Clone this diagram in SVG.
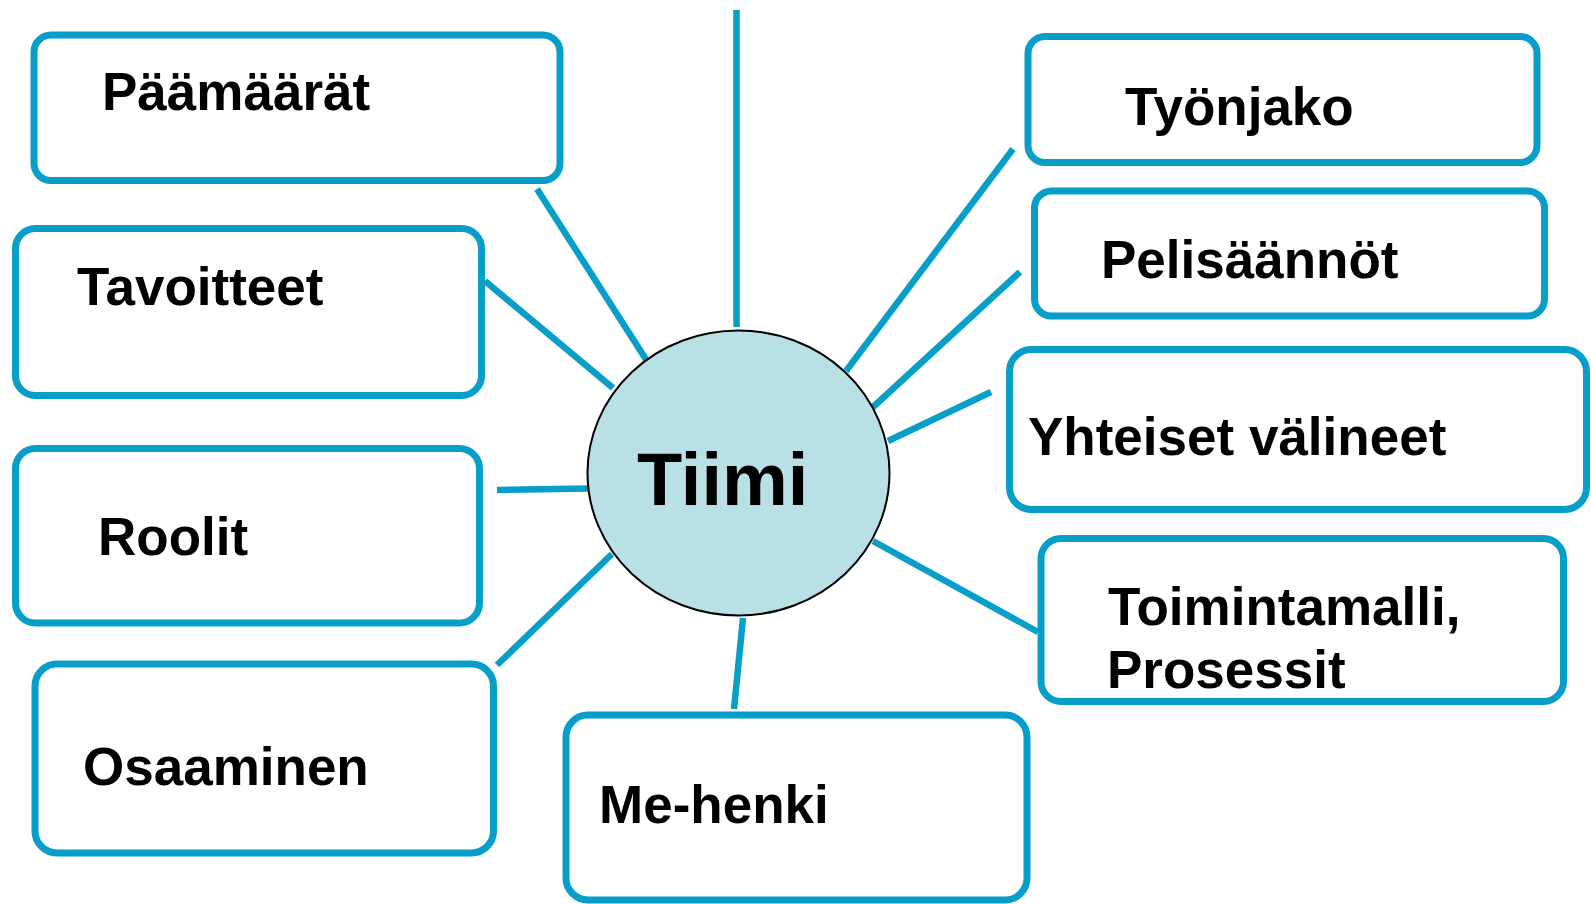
<svg xmlns="http://www.w3.org/2000/svg" width="1591" height="904" viewBox="0 0 1591 904">
  <style>
    .box { fill: #ffffff; stroke: #079fc9; stroke-width: 7; }
    .link { stroke: #079fc9; stroke-width: 6.5; stroke-linecap: butt; fill: none; }
    .label { font-family: "Liberation Sans", Arial, sans-serif; font-weight: bold; font-size: 53px; fill: #000000; }
    .hub { fill: #b9e0e4; stroke: #000000; stroke-width: 2; }
    .hub-label { font-family: "Liberation Sans", Arial, sans-serif; font-weight: bold; font-size: 74px; fill: #000000; }
  </style>
  <rect width="1591" height="904" fill="#ffffff"/>

  <!-- spokes from the central circle -->
  <g id="connectors">
    <line class="link" x1="736.5" y1="10" x2="736.5" y2="327"/>
    <line class="link" x1="537" y1="189" x2="647" y2="361"/>
    <line class="link" x1="485" y1="281" x2="613" y2="388"/>
    <line class="link" x1="497" y1="490" x2="588" y2="488.5"/>
    <line class="link" x1="497" y1="665" x2="612" y2="554"/>
    <line class="link" x1="743" y1="618" x2="734" y2="709"/>
    <line class="link" x1="1013" y1="149" x2="846" y2="371"/>
    <line class="link" x1="1020" y1="272" x2="872" y2="408"/>
    <line class="link" x1="991" y1="392" x2="888" y2="441"/>
    <line class="link" x1="873" y1="541" x2="1038" y2="632"/>
  </g>

  <g id="tiimi">
    <ellipse class="hub" cx="738.5" cy="473" rx="151" ry="142.5"/>
    <text class="hub-label" x="637" y="505">Tiimi</text>
  </g>

  <g id="paamaarat">
    <rect class="box" x="34" y="35" width="526" height="145.5" rx="17"/>
    <text class="label" x="102" y="110">Päämäärät</text>
  </g>

  <g id="tavoitteet">
    <rect class="box" x="15.5" y="228.5" width="466" height="167" rx="20"/>
    <text class="label" x="77" y="305">Tavoitteet</text>
  </g>

  <g id="roolit">
    <rect class="box" x="15.5" y="448.5" width="464" height="174.5" rx="20"/>
    <text class="label" x="98" y="555">Roolit</text>
  </g>

  <g id="osaaminen">
    <rect class="box" x="35" y="664" width="458.5" height="189" rx="22"/>
    <text class="label" x="83" y="785">Osaaminen</text>
  </g>

  <g id="me-henki">
    <rect class="box" x="566" y="715" width="461" height="185" rx="22"/>
    <text class="label" x="599" y="823">Me-henki</text>
  </g>

  <g id="tyonjako">
    <rect class="box" x="1028" y="36.5" width="509" height="126" rx="17"/>
    <text class="label" x="1125" y="125">Työnjako</text>
  </g>

  <g id="pelisaannot">
    <rect class="box" x="1034.5" y="191" width="510" height="125" rx="17"/>
    <text class="label" x="1101" y="278">Pelisäännöt</text>
  </g>

  <g id="yhteiset-valineet">
    <rect class="box" x="1009.5" y="349.5" width="577" height="160" rx="22"/>
    <text class="label" x="1028" y="455">Yhteiset välineet</text>
  </g>

  <g id="toimintamalli">
    <rect class="box" x="1041" y="538.5" width="522.5" height="163" rx="20"/>
    <text class="label" x="1108" y="625">Toimintamalli,</text>
    <text class="label" x="1107" y="688">Prosessit</text>
  </g>
</svg>
